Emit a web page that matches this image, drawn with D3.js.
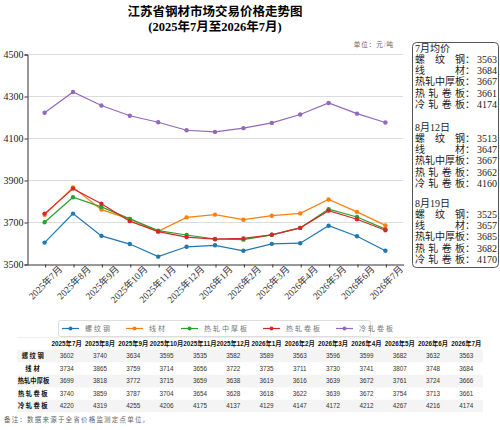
<!DOCTYPE html>
<html>
<head>
<meta charset="utf-8">
<script src="https://cdn.jsdelivr.net/npm/d3@7"></script>
<style>
body { margin: 0; background: #fff; }
svg { display: block; }
</style>
</head>
<body>
<div id="chart"></div>
<script>
var W = 500, H = 430;

var months = ['2025年7月', '2025年8月', '2025年9月', '2025年10月', '2025年11月', '2025年12月',
	'2026年1月', '2026年2月', '2026年3月', '2026年4月', '2026年5月', '2026年6月', '2026年7月'];
var names = ['螺纹钢', '线材', '热轧中厚板', '热轧卷板', '冷轧卷板'];
var colors = ['#1f77b4', '#ff7f0e', '#2ca02c', '#d62728', '#9467bd'];

var rebar = [3602, 3740, 3634, 3595, 3535, 3582, 3589, 3563, 3596, 3599, 3682, 3632, 3563];
var wire  = [3734, 3865, 3759, 3714, 3656, 3722, 3735, 3711, 3730, 3741, 3807, 3748, 3684];
var plate = [3699, 3818, 3772, 3715, 3659, 3638, 3619, 3616, 3639, 3672, 3761, 3724, 3666];
var hrc   = [3740, 3859, 3787, 3704, 3654, 3628, 3618, 3622, 3639, 3672, 3754, 3713, 3661];
var crc   = [4220, 4319, 4255, 4206, 4175, 4137, 4129, 4147, 4172, 4212, 4267, 4216, 4174];
var series = [rebar, wire, plate, hrc, crc];

var yTicks = [3500, 3700, 3900, 4100, 4300, 4500];

// side box
var noteTitles = ['7月均价', '8月12日', '8月19日'];
var noteLabels = ['螺纹钢', '线材', '热轧中厚板', '热轧卷板', '冷轧卷板'];
var julyAvg = [3563, 3684, 3667, 3661, 4174];
var aug12   = [3513, 3647, 3667, 3662, 4160];
var aug19   = [3525, 3657, 3685, 3682, 4170];
var noteValues = [julyAvg, aug12, aug19];

var serif = '"Liberation Serif", "Noto Sans CJK SC", serif';
var sans = '"Liberation Sans", "Noto Sans CJK SC", sans-serif';

var svg = d3.select('#chart').append('svg')
	.attr('width', W)
	.attr('height', H);

var x = d3.scalePoint().domain(months).range([27, 403]).padding(0.62);
var y = d3.scaleLinear().domain([3500, 4500]).range([264, 54]);

// titles
svg.append('text').attr('x', 215).attr('y', 16)
	.attr('text-anchor', 'middle').style('font', 'bold 12.5px ' + serif)
	.text('江苏省钢材市场交易价格走势图');
svg.append('text').attr('x', 215).attr('y', 30.5)
	.attr('text-anchor', 'middle').style('font', 'bold 12.5px ' + serif)
	.text('(2025年7月至2026年7月)');
svg.append('text').attr('x', 394).attr('y', 46.5)
	.attr('text-anchor', 'end').style('font', '6.5px ' + serif)
	.style('letter-spacing', '1px').attr('fill', '#666')
	.text('单位：元/吨');

// grid
svg.append('g').selectAll('line')
	.data(yTicks.slice(1))
	.enter().append('line')
	.attr('x1', 27).attr('x2', 403)
	.attr('y1', function(d) { return y(d) + 0.5 })
	.attr('y2', function(d) { return y(d) + 0.5 })
	.attr('stroke', '#dcdcdc');

// axes
var yAxis = svg.append('g').attr('transform', 'translate(27.5,0.5)')
	.call(d3.axisLeft(y).tickValues(yTicks).tickSize(3).tickFormat(d3.format('d')));
yAxis.select('.domain').attr('stroke', '#333');
yAxis.selectAll('.tick line').attr('stroke', '#333');
yAxis.selectAll('text').style('font', '10px ' + serif).attr('fill', '#222').attr('x', -4);

var xAxis = svg.append('g').attr('transform', 'translate(0.5,264.5)')
	.call(d3.axisBottom(x).tickSize(3).tickSizeOuter(0));
xAxis.select('.domain').attr('stroke', '#333');
xAxis.selectAll('.tick line').attr('stroke', '#333');
xAxis.selectAll('text')
	.style('font', '9.5px ' + serif).attr('fill', '#333')
	.attr('text-anchor', 'end')
	.attr('dy', '0.35em')
	.attr('transform', 'translate(15,3) rotate(-45)')
	.attr('x', 0).attr('y', 0);

// lines
var line = d3.line()
	.x(function(d, i) { return x(months[i]) })
	.y(function(d) { return y(d) });

var g = svg.append('g');
series.forEach(function(s, k) {
	g.append('path').datum(s)
		.attr('d', line)
		.attr('fill', 'none')
		.attr('stroke', colors[k])
		.attr('stroke-width', 1.2);
	g.selectAll('.dot' + k)
		.data(s)
		.enter().append('circle')
		.attr('class', 'dot' + k)
		.attr('cx', function(d, i) { return x(months[i]) })
		.attr('cy', function(d) { return y(d) })
		.attr('r', 2.2)
		.attr('fill', colors[k]);
});

// legend
var leg = svg.append('g');
leg.append('rect').attr('x', 58.5).attr('y', 320.5).attr('width', 312).attr('height', 16)
	.attr('rx', 2).attr('fill', '#fff').attr('stroke', '#ddd');
var lx = 62;
names.forEach(function(n, k) {
	leg.append('line').attr('x1', lx).attr('x2', lx + 17)
		.attr('y1', 328.5).attr('y2', 328.5)
		.attr('stroke', colors[k]).attr('stroke-width', 1.2);
	leg.append('circle').attr('cx', lx + 8.5).attr('cy', 328.5).attr('r', 2).attr('fill', colors[k]);
	var t = leg.append('text').attr('x', lx + 23).attr('y', 331)
		.style('font', '7px ' + serif).style('letter-spacing', '2px')
		.attr('fill', '#777').text(n);
	lx += 23 + t.node().getComputedTextLength() + 14;
});

// side note box
var nb = svg.append('g');
nb.append('rect').attr('x', 412.5).attr('y', 42.5).attr('width', 86).attr('height', 225)
	.attr('rx', 4).attr('fill', '#fff').attr('stroke', '#555');
var groupTop = [48, 127, 203];
noteTitles.forEach(function(title, gi) {
	var cy = groupTop[gi];
	nb.append('text').attr('x', 415).attr('y', cy).attr('dy', '0.35em')
		.style('font', '10px ' + serif).attr('fill', '#222').text(title);
	noteLabels.forEach(function(lab, li) {
		var yy = cy + (li + 1) * 11.3;
		var chars = lab.split('');
		chars.forEach(function(c, ci) {
			var cx = chars.length > 1 ? 415 + ci * 40 / (chars.length - 1) : 415;
			nb.append('text').attr('x', cx).attr('y', yy).attr('dy', '0.35em')
				.style('font', '10px ' + serif).attr('fill', '#222').text(c);
		});
		nb.append('text').attr('x', 465).attr('y', yy).attr('dy', '0.35em')
			.style('font', '10px ' + serif).attr('fill', '#222').text('：');
		nb.append('text').attr('x', 497).attr('y', yy).attr('dy', '0.35em')
			.attr('text-anchor', 'end')
			.style('font', '10px ' + serif).attr('fill', '#222').text(noteValues[gi][li]);
	});
});

// table
var col = d3.scaleBand().domain(months).range([50, 483]);
var tb = svg.append('g');
var rowY = function(i) { return 356 + i * 12.5 };
tb.append('line').attr('x1', 17).attr('x2', 483).attr('y1', 337.5).attr('y2', 337.5)
	.attr('stroke', '#eee');
tb.selectAll('text.head')
	.data(months)
	.enter().append('text')
	.attr('class', 'head')
	.attr('x', function(d) { return col(d) + col.bandwidth() / 2 })
	.attr('y', 344).attr('dy', '0.35em')
	.attr('text-anchor', 'middle')
	.style('font', 'bold 6.3px ' + sans).attr('fill', '#111')
	.text(function(d) { return d });
series.forEach(function(s, k) {
	if (k % 2 === 0) {
		tb.append('rect').attr('x', 17).attr('y', rowY(k) - 6.25)
			.attr('width', 466).attr('height', 12.5).attr('fill', '#f4f4f4');
	}
	tb.append('text').attr('x', 33.5).attr('y', rowY(k)).attr('dy', '0.35em')
		.attr('text-anchor', 'middle')
		.style('font', 'bold 6.3px ' + sans)
		.style('letter-spacing', names[k].length > 4 ? '0px' : (names[k].length === 2 ? '2px' : '1.5px'))
		.attr('fill', '#111').text(names[k]);
	tb.selectAll('text.v' + k)
		.data(s)
		.enter().append('text')
		.attr('class', 'v' + k)
		.attr('x', function(d, i) { return col(months[i]) + col.bandwidth() / 2 })
		.attr('y', rowY(k)).attr('dy', '0.35em')
		.attr('text-anchor', 'middle')
		.style('font', '6.3px ' + sans).attr('fill', '#333')
		.text(function(d) { return d });
});

svg.append('text').attr('x', 4).attr('y', 420).attr('dy', '0.35em')
	.style('font', '6.5px ' + serif).style('letter-spacing', '1.2px').attr('fill', '#666')
	.text('备注：数据来源于全省价格监测定点单位。');
</script>
</body>
</html>
